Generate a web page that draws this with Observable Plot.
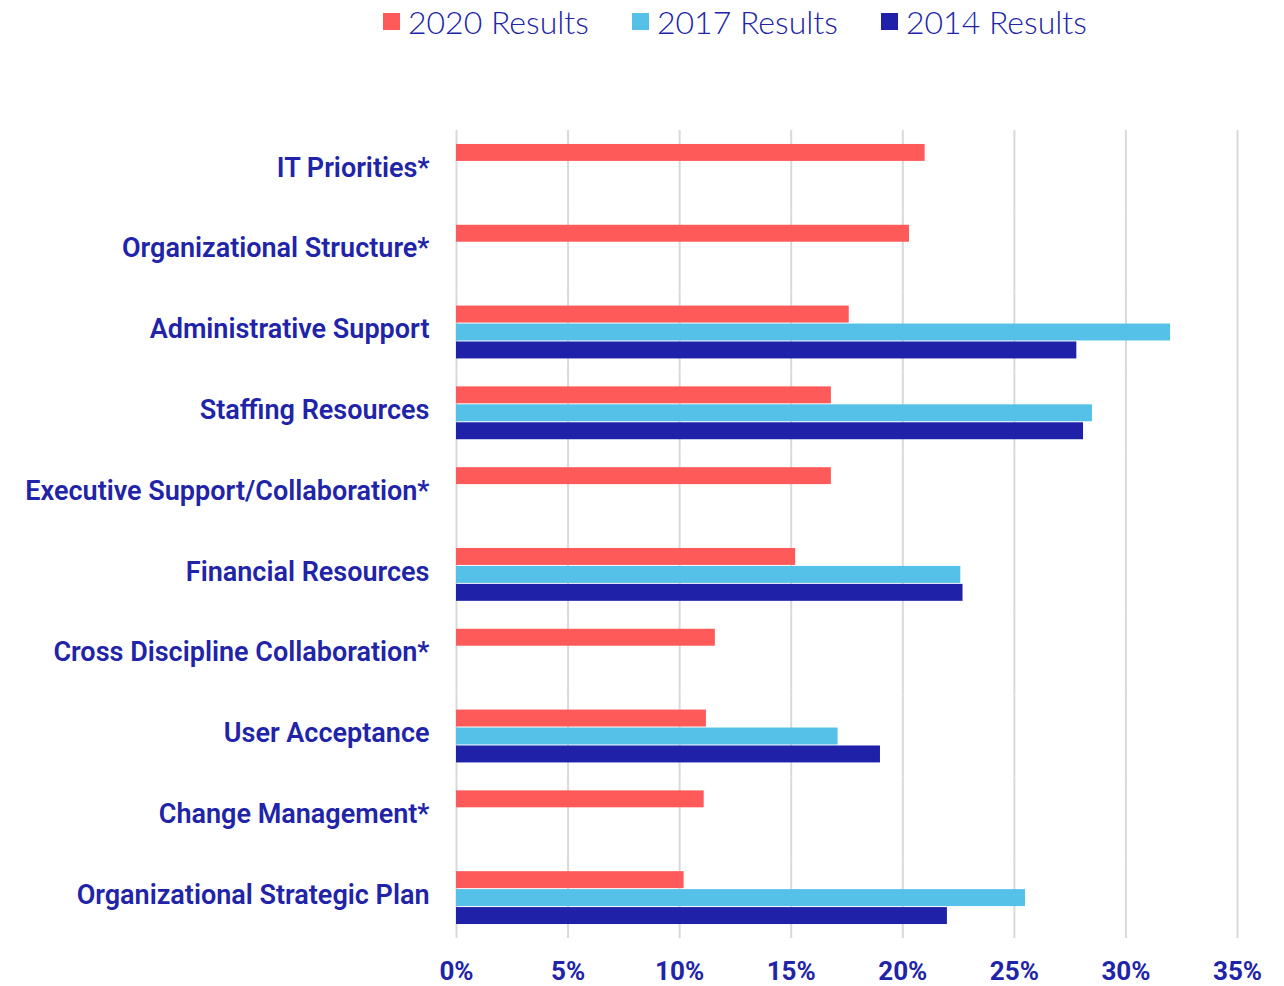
<!DOCTYPE html>
<html>
<head>
<meta charset="utf-8">
<script src="https://cdn.jsdelivr.net/npm/d3@7"></script>
<script src="https://cdn.jsdelivr.net/npm/@observablehq/plot@0.6"></script>
<style>
  html, body { margin: 0; padding: 0; background: #fff; }
  #wrap { position: relative; width: 1284px; height: 986px; }
  #legend { position: absolute; top: 0; left: 0; width: 1284px; height: 42px; display: flex; justify-content: flex-start; align-items: center; font-family: "Lato", "Open Sans", sans-serif; font-weight: 300; font-size: 32px; color: #2124A8; padding-left: 383px; box-sizing: border-box; white-space: nowrap; }
  #legend .item { display: flex; align-items: center; width: 249px; }
  #legend .sw { display: inline-block; width: 17px; height: 17px; margin-right: 8px; flex: none; }
  #chart { position: absolute; top: 0; left: 0; }
</style>
</head>
<body>
<div id="wrap">
  <div id="chart"></div>
  <div id="legend"></div>
</div>
<script>
const categories = [
  "IT Priorities*",
  "Organizational Structure*",
  "Administrative Support",
  "Staffing Resources",
  "Executive Support/Collaboration*",
  "Financial Resources",
  "Cross Discipline Collaboration*",
  "User Acceptance",
  "Change Management*",
  "Organizational Strategic Plan"
];
const seriesNames = ["2020 Results", "2017 Results", "2014 Results"];
const seriesColors = ["#FF5A5A", "#55C0E8", "#1F22A8"];
const results2020 = [21.0, 20.3, 17.6, 16.8, 16.8, 15.2, 11.6, 11.2, 11.1, 10.2];
const results2017 = [null, null, 32.0, 28.5, null, 22.6, null, 17.1, null, 25.5];
const results2014 = [null, null, 27.8, 28.1, null, 22.7, null, 19.0, null, 22.0];
const xTicks = [0, 0.05, 0.10, 0.15, 0.20, 0.25, 0.30, 0.35];

const seriesValues = [results2020, results2017, results2014];
const data = [];
categories.forEach((c, i) => {
  seriesNames.forEach((s, j) => {
    const v = seriesValues[j][i];
    if (v != null) data.push({category: c, series: s, value: v / 100});
  });
});

const textColor = "#2124A8";
const pct = d3.format(".0%");

const chart = Plot.plot({
  width: 1284,
  height: 986,
  marginTop: 130,
  marginBottom: 48,
  marginLeft: 456,
  marginRight: 47,
  style: {fontFamily: "Roboto, 'Open Sans', sans-serif", color: textColor, background: "#fff"},
  x: {domain: [0, 0.35], ticks: xTicks, tickFormat: pct, label: null},
  y: {domain: seriesNames, axis: null, paddingInner: 0, paddingOuter: 0.75, round: false},
  fy: {domain: categories, padding: 0, label: null, round: false},
  color: {domain: seriesNames, range: seriesColors},
  marks: [
    Plot.gridX(xTicks, {stroke: "#d9d9d9", strokeOpacity: 1, strokeWidth: 2}),
    Plot.barX(data, {x: "value", y: "series", fy: "category", fill: "series", insetTop: 0.5, insetBottom: 0.5}),
    Plot.axisFy({anchor: "left", tickSize: 0, tickPadding: 27, fontSize: 27, fontWeight: 600, fill: textColor, dy: -3, label: null}),
    Plot.axisX(xTicks, {anchor: "bottom", tickSize: 0, tickPadding: 23, tickFormat: pct, fontSize: 26, fontWeight: 700, fill: textColor, label: null})
  ]
});
document.getElementById("chart").appendChild(chart);

const legend = document.getElementById("legend");
seriesNames.forEach((s, i) => {
  const item = document.createElement("div");
  item.className = "item";
  const sw = document.createElement("span");
  sw.className = "sw";
  sw.style.background = seriesColors[i];
  const t = document.createElement("span");
  t.textContent = s;
  item.appendChild(sw);
  item.appendChild(t);
  legend.appendChild(item);
});
</script>
</body>
</html>
